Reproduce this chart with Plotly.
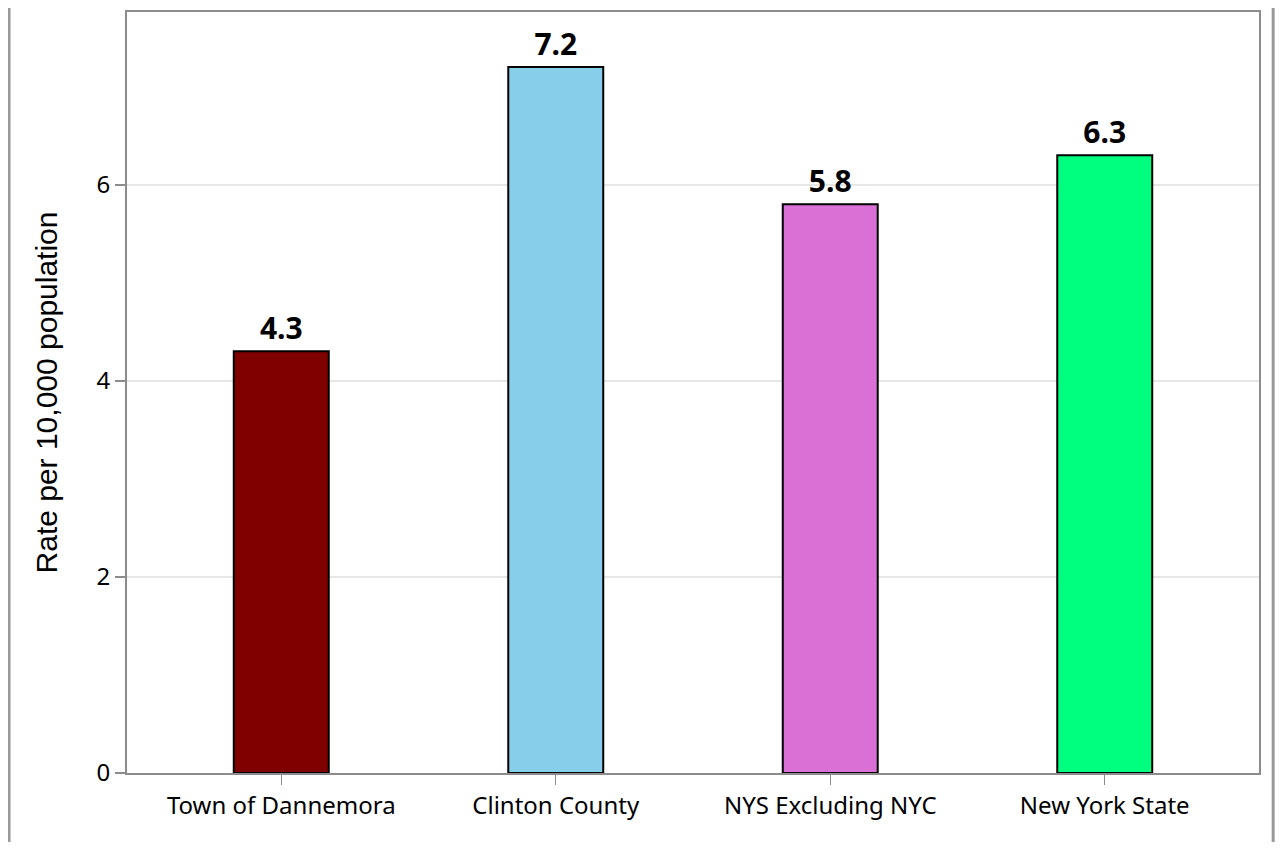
import plotly.graph_objects as go

categories = ["Town of Dannemora", "Clinton County", "NYS Excluding NYC", "New York State"]
values = [4.3, 7.2, 5.8, 6.3]
colors = ["#800000", "#87CEEB", "#DA70D6", "#00FF7F"]
y_ticks = [0, 2, 4, 6]

fig = go.Figure()
fig.add_trace(go.Bar(
    x=categories, y=values,
    marker=dict(color=colors, line=dict(color="black", width=2)),
    text=[f"{v:.1f}" for v in values],
    textposition="outside",
    textfont=dict(family="Noto Sans", size=30, color="black", weight="bold"),
    cliponaxis=False,
    width=0.346,
))

axis_col = "#8c8c8c"
fig.update_layout(
    width=1267, height=834,
    margin=dict(l=119, r=16, t=2, b=69),
    plot_bgcolor="white", paper_bgcolor="white",
    font=dict(family="Noto Sans", size=24, color="black"),
    showlegend=False,
    xaxis=dict(range=[-0.562, 3.562], showline=True, linecolor=axis_col, linewidth=2, mirror=True,
               ticks="outside", ticklen=10, tickcolor=axis_col, tickwidth=1,
               tickfont=dict(size=24)),
    yaxis=dict(range=[0, 7.76], tickvals=y_ticks, showline=True, linecolor=axis_col,
               linewidth=2, mirror=True, ticks="outside", ticklen=10, tickcolor=axis_col,
               tickwidth=2, showgrid=True, gridcolor="#e6e6e6", gridwidth=2,
               zeroline=False, tickfont=dict(size=24),
               title=dict(text="Rate per 10,000 population",
                          font=dict(family="Liberation Sans", size=30), standoff=30)),
    shapes=[
        dict(type="line", xref="paper", yref="paper", x0=-0.1042, x1=-0.1042, y0=-0.1, y1=1.02,
             line=dict(color="#999999", width=3)),
        dict(type="line", xref="paper", yref="paper", x0=1.0125, x1=1.0125, y0=-0.1, y1=1.02,
             line=dict(color="#999999", width=3)),
    ],
)
fig.write_html("out.html")
